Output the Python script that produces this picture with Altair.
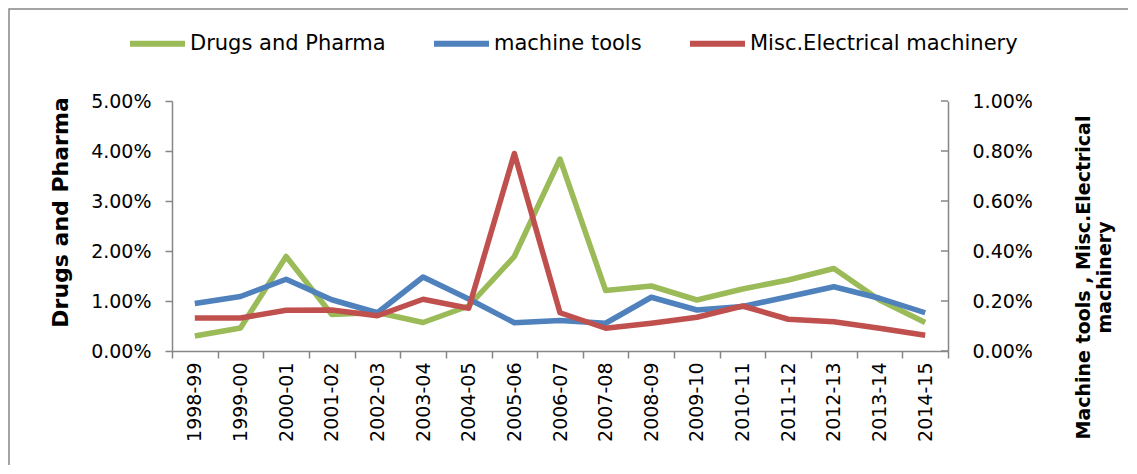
import altair as alt
import pandas as pd

cats = ["1998-99", "1999-00", "2000-01", "2001-02", "2002-03", "2003-04", "2004-05",
        "2005-06", "2006-07", "2007-08", "2008-09", "2009-10", "2010-11", "2011-12",
        "2012-13", "2013-14", "2014-15"]
# values in percent
drugs = [0.30, 0.46, 1.89, 0.73, 0.77, 0.57, 0.90, 1.89, 3.84, 1.21, 1.30, 1.02, 1.24, 1.42, 1.65, 1.02, 0.57]
machine = [0.190, 0.218, 0.287, 0.205, 0.153, 0.296, 0.208, 0.113, 0.122, 0.111, 0.215, 0.164, 0.178, 0.217, 0.257, 0.211, 0.153]
misc = [0.132, 0.132, 0.163, 0.164, 0.141, 0.207, 0.171, 0.790, 0.153, 0.091, 0.111, 0.135, 0.180, 0.127, 0.117, 0.091, 0.063]
series = ["Drugs and Pharma", "machine tools", "Misc.Electrical machinery"]
colors = ["#9BBB59", "#4F81BD", "#C0504D"]
left_ticks = [0, 0.01, 0.02, 0.03, 0.04, 0.05]
right_ticks = [0, 0.002, 0.004, 0.006, 0.008, 0.01]

rows = []
for s, vals in zip(series, [drugs, machine, misc]):
    for c, v in zip(cats, vals):
        rows.append({"year": c, "series": s, "value": v / 100})
df = pd.DataFrame(rows)
tick_df = pd.DataFrame({"value": right_ticks})

W, H = 776, 250
FONT = "DejaVu Sans"
GRAY = "#868686"

color = alt.Color(
    "series:N",
    scale=alt.Scale(domain=series, range=colors),
    legend=alt.Legend(
        title=None, orient="none", legendX=-45, legendY=-88, direction="horizontal",
        symbolType="stroke", symbolSize=3025, symbolStrokeWidth=6,
        labelFontSize=21, labelFont=FONT, labelColor="black", labelLimit=500,
        columnPadding=36, labelOffset=2,
    ),
)

x = alt.X(
    "year:N", sort=cats, bandPosition=0.5,
    scale=alt.Scale(type="band", paddingInner=0, paddingOuter=0),
    axis=alt.Axis(
        title=None, labelAngle=270, labelAlign="right", labelBaseline="middle",
        labelFontSize=19, labelFont=FONT, labelColor="black", tickBand="extent",
        tickSize=7, tickColor=GRAY, domainColor=GRAY, labelPadding=4,
    ),
)

right_axis = alt.Axis(
    values=right_ticks, format=".2%", orient="right", grid=False,
    title=["Machine tools , Misc.Electrical", "machinery"], titleFont=FONT,
    titleFontSize=19, titleFontWeight="bold", titleAngle=270,
    titleX=135, titleY=176, titleAlign="center", titleBaseline="middle",
    titleColor="black", labelFontSize=19, labelFont=FONT, labelColor="black",
    ticks=False, domainColor=GRAY, labelPadding=24,
)
right_scale = alt.Scale(domain=[0, 0.01], nice=False)

base = alt.Chart(df)

left = base.transform_filter(alt.datum.series == series[0]).mark_line(
    strokeWidth=5.5, strokeJoin="round"
).encode(
    x=x,
    y=alt.Y(
        "value:Q",
        scale=alt.Scale(domain=[0, 0.05], nice=False),
        axis=alt.Axis(
            values=left_ticks, format=".2%", orient="left", grid=False,
            title="Drugs and Pharma", titleFont=FONT, titleFontSize=22,
            titleFontWeight="bold", titleAngle=270, titleX=-112, titleY=111,
            titleAlign="center", titleBaseline="middle", titleColor="black",
            labelFontSize=19, labelFont=FONT, labelColor="black",
            tickSize=7, tickColor=GRAY, domainColor=GRAY, labelPadding=14,
        ),
    ),
    color=color,
)

right_lines = base.transform_filter(alt.datum.series != series[0]).mark_line(
    strokeWidth=5.5, strokeJoin="round"
).encode(
    x=x,
    y=alt.Y("value:Q", scale=right_scale, axis=right_axis),
    color=color,
)

right_ticks_layer = alt.Chart(tick_df).mark_rule(color=GRAY, strokeWidth=1.5).encode(
    y=alt.Y("value:Q", scale=right_scale, axis=right_axis),
    x=alt.value(W - 7),
    x2=alt.value(W),
)

right = alt.layer(right_lines, right_ticks_layer)

border = alt.Chart(pd.DataFrame({"a": [0]})).mark_rect(
    fillOpacity=0, stroke=GRAY, strokeWidth=1.5
).encode(
    x=alt.value(-163), x2=alt.value(1000), y=alt.value(-92), y2=alt.value(400)
)

chart = alt.layer(border, left, right).resolve_scale(y="independent").properties(
    width=W, height=H,
    autosize=alt.AutoSizeParams(type="none"),
    padding={"left": 164, "top": 93, "right": 180, "bottom": 114},
).configure_view(stroke=None).configure_axis(domainWidth=1.5, tickWidth=1.5)

chart.save("out.html", embed_options={"renderer": "svg", "actions": False})
